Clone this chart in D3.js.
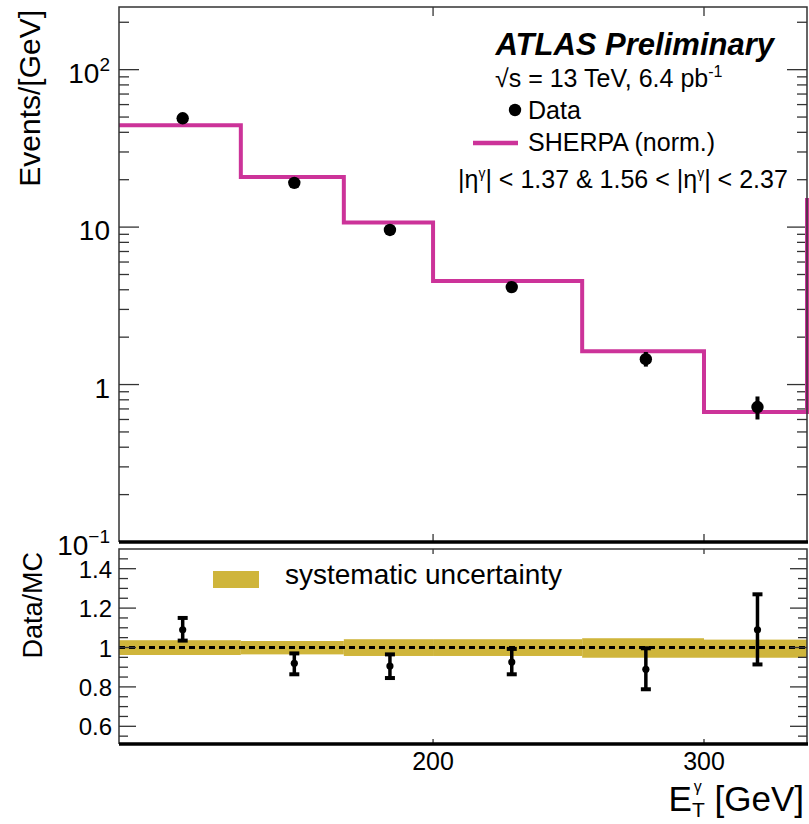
<!DOCTYPE html>
<html>
<head>
<meta charset="utf-8">
<script src="https://cdn.jsdelivr.net/npm/d3@7"></script>
<style>
  body { margin: 0; background: #fff; }
  text { font-family: "Liberation Sans", Arial, Helvetica, sans-serif; fill: #000; }
</style>
</head>
<body>
<script>
const width = 809;
const height = 824;

// bin edges in E_T (GeV)
const binEdges = [125, 150, 175, 200, 250, 300, 350];
// SHERPA (norm.) prediction per bin, plus the overflow level drawn at the right edge
const mcValues = [44.3, 20.8, 10.7, 4.55, 1.63, 0.67];
const mcOverflow = 15.3;
// data points
const dataValues = [49.1, 19.1, 9.59, 4.16, 1.45, 0.72];
const dataErrUp = [2.6, 1.1, 0.58, 0.27, 0.16, 0.12];
const dataErrDown = [2.6, 1.1, 0.58, 0.27, 0.15, 0.12];
// ratio panel
const ratioValues = [1.09, 0.92, 0.906, 0.926, 0.889, 1.09];
const ratioErrUp = [0.06, 0.05, 0.059, 0.067, 0.107, 0.18];
const ratioErrDown = [0.055, 0.056, 0.061, 0.062, 0.101, 0.176];
const systHigh = [1.037, 1.033, 1.042, 1.042, 1.047, 1.04];
const systLow = [0.962, 0.965, 0.957, 0.957, 0.948, 0.948];
// ticks
const xTicks = [200, 300];
const yMajor = [0.1, 1, 10, 100];
const ratioMajor = [0.6, 0.8, 1, 1.2, 1.4];

const magenta = "#cc3399";
const gold = "#cfb53b";
const frameColor = "#333";

const left = 119, right = 807;
const topY0 = 7, topY1 = 542;
const ratY0 = 549, ratY1 = 744;

const svg = d3.select("body").append("svg")
    .attr("width", width)
    .attr("height", height);

const x = d3.scaleLog().domain([125, 350]).range([left, right]);
const y = d3.scaleLog().domain([0.1, 250]).range([topY1, topY0]);
const yr = d3.scaleLinear().domain([0.5, 1.5]).range([746, 549]);

const centers = binEdges.slice(0, -1).map((e, i) => (e + binEdges[i + 1]) / 2);

// ---------- top panel ----------
// y ticks (both sides)
const yMinor = [];
for (let dec = 0.1; dec < 250; dec *= 10) {
    for (let k = 2; k <= 9; k++) {
        const v = +(dec * k).toPrecision(3);
        if (v < 250) yMinor.push(v);
    }
}
[[left, 1], [right, -1]].forEach(([x0, dir]) => {
    svg.selectAll(null).data(yMajor).enter().append("line")
        .attr("x1", x0).attr("x2", x0 + dir * 20)
        .attr("y1", d => y(d)).attr("y2", d => y(d))
        .attr("stroke", frameColor).attr("stroke-width", 1.3);
    svg.selectAll(null).data(yMinor).enter().append("line")
        .attr("x1", x0).attr("x2", x0 + dir * 10)
        .attr("y1", d => y(d)).attr("y2", d => y(d))
        .attr("stroke", frameColor).attr("stroke-width", 1.3);
});

// y tick labels
const yLabel = (v, base, sup) => {
    const t = svg.append("text")
        .attr("x", 110).attr("y", y(v) + 13)
        .attr("text-anchor", "end")
        .attr("font-size", 28);
    t.append("tspan").text(base);
    if (sup) t.append("tspan").attr("dy", -12).attr("font-size", 19).text(sup);
};
yLabel(100, "10", "2");
yLabel(10, "10");
yLabel(1, "1");
yLabel(0.1, "10", "\u22121");

// x ticks on top panel
svg.selectAll(null).data(xTicks).enter().append("line")
    .attr("x1", d => x(d)).attr("x2", d => x(d))
    .attr("y1", topY0).attr("y2", topY0 + 9)
    .attr("stroke", frameColor).attr("stroke-width", 1.3);
svg.selectAll(null).data(xTicks).enter().append("line")
    .attr("x1", d => x(d)).attr("x2", d => x(d))
    .attr("y1", topY1).attr("y2", topY1 - 8)
    .attr("stroke", frameColor).attr("stroke-width", 1.3);

// MC histogram
const histPts = binEdges.slice(0, -1).map((e, i) => [e, mcValues[i]]);
histPts.push([350, mcOverflow]);
const histLine = d3.line()
    .x(d => x(d[0]))
    .y(d => y(d[1]))
    .curve(d3.curveStepAfter);
svg.append("path")
    .attr("d", histLine(histPts))
    .attr("fill", "none")
    .attr("stroke", magenta)
    .attr("stroke-width", 4);

// data error bars and markers
svg.selectAll(null).data(dataValues).enter().append("line")
    .attr("x1", (d, i) => x(centers[i])).attr("x2", (d, i) => x(centers[i]))
    .attr("y1", (d, i) => y(d + dataErrUp[i]))
    .attr("y2", (d, i) => y(d - dataErrDown[i]))
    .attr("stroke", "#000").attr("stroke-width", 4);
svg.selectAll(null).data(dataValues).enter().append("circle")
    .attr("cx", (d, i) => x(centers[i]))
    .attr("cy", d => y(d))
    .attr("r", 6.2)
    .attr("fill", "#000");

// top frame
svg.append("path")
    .attr("d", `M${left},${topY1}V${topY0}H${right}V${topY1}`)
    .attr("fill", "none").attr("stroke", frameColor).attr("stroke-width", 1.5);
svg.append("line")
    .attr("x1", left).attr("x2", right + 1)
    .attr("y1", topY1).attr("y2", topY1)
    .attr("stroke", "#000").attr("stroke-width", 3.5);

// y title
svg.append("text")
    .attr("transform", "translate(40,10) rotate(-90)")
    .attr("text-anchor", "end")
    .attr("font-size", 30)
    .text("Events/[GeV]");

// legend and labels
svg.append("text")
    .attr("x", 774).attr("y", 55)
    .attr("text-anchor", "end")
    .attr("font-size", 31)
    .attr("font-weight", "bold")
    .attr("font-style", "italic")
    .text("ATLAS Preliminary");

const lumi = svg.append("text")
    .attr("x", 495).attr("y", 87)
    .attr("font-size", 25);
lumi.append("tspan").text("\u221As = 13 TeV, 6.4 pb");
lumi.append("tspan").attr("dy", -10).attr("font-size", 16).text("-1");

svg.append("circle").attr("cx", 515).attr("cy", 110).attr("r", 6.2).attr("fill", "#000");
svg.append("text").attr("x", 528).attr("y", 119).attr("font-size", 25).text("Data");

svg.append("line")
    .attr("x1", 473).attr("x2", 518)
    .attr("y1", 143).attr("y2", 143)
    .attr("stroke", magenta).attr("stroke-width", 4.5);
svg.append("text").attr("x", 528).attr("y", 151).attr("font-size", 25).text("SHERPA (norm.)");

const eta = svg.append("text")
    .attr("x", 458).attr("y", 188)
    .attr("font-size", 25);
eta.append("tspan").text("|\u03B7");
eta.append("tspan").attr("dy", -10).attr("font-size", 14).text("\u03B3");
eta.append("tspan").attr("dy", 10).text("| < 1.37 & 1.56 < |\u03B7");
eta.append("tspan").attr("dy", -10).attr("font-size", 14).text("\u03B3");
eta.append("tspan").attr("dy", 10).text("| < 2.37");

// ---------- ratio panel ----------
// systematic band
svg.selectAll(null).data(systHigh).enter().append("rect")
    .attr("x", (d, i) => x(binEdges[i]))
    .attr("width", (d, i) => x(binEdges[i + 1]) - x(binEdges[i]))
    .attr("y", d => yr(d))
    .attr("height", (d, i) => yr(systLow[i]) - yr(d))
    .attr("fill", gold);

// dashed unity line
svg.append("line")
    .attr("x1", left).attr("x2", right)
    .attr("y1", yr(1)).attr("y2", yr(1))
    .attr("stroke", "#000").attr("stroke-width", 3)
    .attr("stroke-dasharray", "6,4");

// ratio points
svg.selectAll(null).data(ratioValues).enter().append("line")
    .attr("x1", (d, i) => x(centers[i])).attr("x2", (d, i) => x(centers[i]))
    .attr("y1", (d, i) => yr(d + ratioErrUp[i]))
    .attr("y2", (d, i) => yr(d - ratioErrDown[i]))
    .attr("stroke", "#000").attr("stroke-width", 3.5);
[ratioErrUp, ratioErrDown].forEach((err, k) => {
    svg.selectAll(null).data(ratioValues).enter().append("line")
        .attr("x1", (d, i) => x(centers[i]) - 5).attr("x2", (d, i) => x(centers[i]) + 5)
        .attr("y1", (d, i) => yr(k === 0 ? d + err[i] : d - err[i]))
        .attr("y2", (d, i) => yr(k === 0 ? d + err[i] : d - err[i]))
        .attr("stroke", "#000").attr("stroke-width", 4);
});
svg.selectAll(null).data(ratioValues).enter().append("circle")
    .attr("cx", (d, i) => x(centers[i]))
    .attr("cy", d => yr(d))
    .attr("r", 3.6)
    .attr("fill", "#000");

// ratio y ticks (both sides)
const ratioMinor = d3.range(0.55, 1.5, 0.05).map(v => +v.toFixed(2))
    .filter(v => !ratioMajor.some(m => Math.abs(m - v) < 1e-6));
[[left, 1], [right, -1]].forEach(([x0, dir]) => {
    svg.selectAll(null).data(ratioMajor).enter().append("line")
        .attr("x1", x0).attr("x2", x0 + dir * 17)
        .attr("y1", d => yr(d)).attr("y2", d => yr(d))
        .attr("stroke", frameColor).attr("stroke-width", 1.3);
    svg.selectAll(null).data(ratioMinor).enter().append("line")
        .attr("x1", x0).attr("x2", x0 + dir * 9)
        .attr("y1", d => yr(d)).attr("y2", d => yr(d))
        .attr("stroke", frameColor).attr("stroke-width", 1.3);
});
svg.selectAll(null).data(ratioMajor).enter().append("text")
    .attr("x", 112).attr("y", d => yr(d) + 9)
    .attr("text-anchor", "end")
    .attr("font-size", 24)
    .text(d => d === 1 ? "1" : d.toFixed(1));

// x ticks ratio
svg.selectAll(null).data(xTicks).enter().append("line")
    .attr("x1", d => x(d)).attr("x2", d => x(d))
    .attr("y1", ratY0).attr("y2", ratY0 + 5)
    .attr("stroke", frameColor).attr("stroke-width", 1.3);
svg.selectAll(null).data(xTicks).enter().append("line")
    .attr("x1", d => x(d)).attr("x2", d => x(d))
    .attr("y1", ratY1).attr("y2", ratY1 - 5)
    .attr("stroke", frameColor).attr("stroke-width", 1.3);

// ratio frame
svg.append("path")
    .attr("d", `M${left},${ratY1}V${ratY0}H${right}V${ratY1}`)
    .attr("fill", "none").attr("stroke", frameColor).attr("stroke-width", 1.5);
svg.append("line")
    .attr("x1", left).attr("x2", right + 1)
    .attr("y1", ratY1).attr("y2", ratY1)
    .attr("stroke", "#000").attr("stroke-width", 3.5);

// ratio legend
svg.append("rect")
    .attr("x", 213).attr("y", 571)
    .attr("width", 46).attr("height", 17)
    .attr("fill", gold);
svg.append("text")
    .attr("x", 285).attr("y", 584)
    .attr("font-size", 28)
    .text("systematic uncertainty");

svg.append("text")
    .attr("transform", "translate(42,552) rotate(-90)")
    .attr("text-anchor", "end")
    .attr("font-size", 27)
    .text("Data/MC");

// x tick labels
svg.selectAll(null).data(xTicks).enter().append("text")
    .attr("x", d => x(d)).attr("y", 770)
    .attr("text-anchor", "middle")
    .attr("font-size", 25)
    .text(d => d);

// x title: E with subscript T and superscript gamma stacked
const xt = svg.append("text")
    .attr("x", 804).attr("y", 811)
    .attr("text-anchor", "end")
    .attr("font-size", 35);
xt.append("tspan").text("E");
xt.append("tspan").attr("dy", 6).attr("font-size", 21).text("T");
xt.append("tspan").attr("dx", -11).attr("dy", -25).attr("font-size", 16).text("\u03B3");
xt.append("tspan").attr("dx", 3).attr("dy", 19).text(" [GeV]");
</script>
</body>
</html>
